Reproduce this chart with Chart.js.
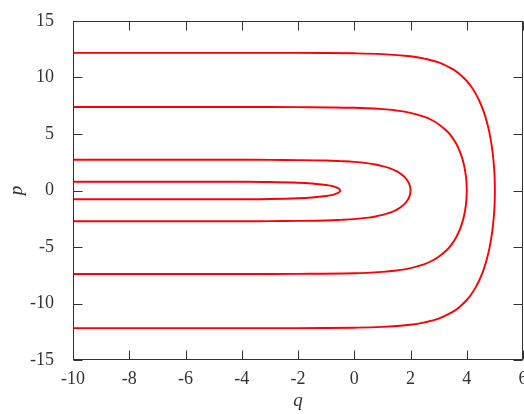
<!DOCTYPE html>
<html>
<head>
<meta charset="utf-8">
<script src="https://cdn.jsdelivr.net/npm/chart.js@4"></script>
<style>
  body { margin: 0; background: #fff; }
  #wrap { width: 524px; height: 414px; }
</style>
</head>
<body>
<div id="wrap"><canvas id="phaseChart" width="524" height="414"></canvas></div>
<script>
// tick labels
const xTicks = [-10, -8, -6, -4, -2, 0, 2, 4, 6];
const yTicks = [-15, -10, -5, 0, 5, 10, 15];

// orbits (q, p), each a closed loop from q = -10
const orbit1Q = [-10, -8, -6, -4, -3, -2, -1.5, -1, -0.8, -0.7, -0.6, -0.55, -0.52, -0.5,
                 -0.52, -0.55, -0.6, -0.7, -0.8, -1, -1.5, -2, -3, -4, -6, -8, -10];
const orbit1P = [0.78, 0.78, 0.78, 0.77, 0.75, 0.69, 0.62, 0.49, 0.40, 0.33, 0.24, 0.17, 0.11, 0,
                 -0.11, -0.17, -0.24, -0.33, -0.40, -0.49, -0.62, -0.69, -0.75, -0.77, -0.78, -0.78, -0.78];

const orbit2Q = [-10, -6, -4, -3, -2, -1, -0.5, 0, 0.5, 0.75, 1, 1.25, 1.5, 1.65, 1.8, 1.9, 1.95, 1.99, 2,
                 1.99, 1.95, 1.9, 1.8, 1.65, 1.5, 1.25, 1, 0.75, 0.5, 0, -0.5, -1, -2, -3, -4, -6, -10];
const orbit2P = [2.72, 2.72, 2.72, 2.71, 2.69, 2.65, 2.60, 2.53, 2.40, 2.30, 2.16, 1.98, 1.71, 1.48, 1.16, 0.84, 0.60, 0.27, 0,
                 -0.27, -0.60, -0.84, -1.16, -1.48, -1.71, -1.98, -2.16, -2.30, -2.40, -2.53, -2.60, -2.65, -2.69, -2.71, -2.72, -2.72, -2.72];

const orbit3Q = [-10, -6, -4, -2, 0, 1, 1.5, 2, 2.5, 2.75, 3, 3.3, 3.45, 3.6, 3.7, 3.8, 3.9, 3.97, 3.99, 4,
                 3.99, 3.97, 3.9, 3.8, 3.7, 3.6, 3.45, 3.3, 3, 2.75, 2.5, 2, 1.5, 1, 0, -2, -4, -6, -10];
const orbit3P = [7.39, 7.39, 7.39, 7.38, 7.32, 7.20, 7.08, 6.87, 6.51, 6.24, 5.87, 5.24, 4.81, 4.24, 3.76, 3.15, 2.28, 1.27, 0.74, 0,
                 -0.74, -1.27, -2.28, -3.15, -3.76, -4.24, -4.81, -5.24, -5.87, -6.24, -6.51, -6.87, -7.08, -7.20, -7.32, -7.38, -7.39, -7.39, -7.39];

const orbit4Q = [-10, -6, -4, -2, 0, 1, 2, 2.5, 3, 3.5, 3.75, 4, 4.15, 4.3, 4.45, 4.6, 4.7, 4.8, 4.9, 4.97, 4.99, 5,
                 4.99, 4.97, 4.9, 4.8, 4.7, 4.6, 4.45, 4.3, 4.15, 4, 3.75, 3.5, 3, 2.5, 2, 1, 0, -2, -4, -6, -10];
const orbit4P = [12.18, 12.18, 12.18, 12.18, 12.14, 12.07, 11.88, 11.67, 11.33, 10.74, 10.29, 9.69, 9.22, 8.64, 7.92, 7.00, 6.20, 5.19, 3.76, 2.09, 1.22, 0,
                 -1.22, -2.09, -3.76, -5.19, -6.20, -7.00, -7.92, -8.64, -9.22, -9.69, -10.29, -10.74, -11.33, -11.67, -11.88, -12.07, -12.14, -12.18, -12.18, -12.18, -12.18];

const orbits = [[orbit1Q, orbit1P], [orbit2Q, orbit2P], [orbit3Q, orbit3P], [orbit4Q, orbit4P]];

const serif = 'Liberation Serif';
const ink = '#333';

// box around the plot with inward ticks on all four sides
const frame = {
    id: 'frame',
    afterDatasetsDraw(chart) {
        const { ctx, chartArea: a, scales } = chart;
        const L = Math.round(a.left) + 0.5, R = Math.round(a.right) - 0.5;
        const T = Math.round(a.top) + 0.5, B = Math.round(a.bottom) - 0.5;
        const len = 9;
        ctx.save();
        ctx.strokeStyle = '#333';
        ctx.lineWidth = 1;
        ctx.strokeRect(L, T, R - L, B - T);
        ctx.beginPath();
        xTicks.forEach(v => {
            const px = Math.round(scales.x.getPixelForValue(v)) + 0.5;
            ctx.moveTo(px, B); ctx.lineTo(px, B - len);
            ctx.moveTo(px, T); ctx.lineTo(px, T + len);
        });
        yTicks.forEach(v => {
            const py = Math.round(scales.y.getPixelForValue(v)) + 0.5;
            ctx.moveTo(L, py); ctx.lineTo(L + len, py);
            ctx.moveTo(R, py); ctx.lineTo(R - len, py);
        });
        ctx.stroke();
        ctx.restore();
    }
};

const ctx = document.getElementById('phaseChart').getContext('2d');
const phaseChart = new Chart(ctx, {
    type: 'scatter',
    data: {
        datasets: orbits.map(([qs, ps]) => ({
            data: qs.map((q, i) => ({ x: q, y: ps[i] })),
            showLine: true,
            borderColor: '#ff0000',
            borderWidth: 1.9,
            pointRadius: 0,
            tension: 0.4,
            fill: false
        }))
    },
    options: {
        responsive: false,
        animation: false,
        layout: { padding: { top: 21, right: 1, left: 0, bottom: 0 } },
        plugins: {
            legend: { display: false },
            tooltip: { enabled: false }
        },
        scales: {
            x: {
                type: 'linear',
                min: -10,
                max: 6,
                afterBuildTicks: s => { s.ticks = xTicks.map(v => ({ value: v })); },
                afterFit: s => { s.height = 54; s.paddingLeft = 0; s.paddingRight = 0; },
                grid: { display: false },
                border: { display: false },
                ticks: { color: ink, font: { family: serif, size: 18 }, padding: 0, maxRotation: 0, autoSkip: false },
                title: { display: true, text: 'q', color: ink, font: { family: serif, size: 19, style: 'italic' }, padding: { top: 0, bottom: 2 } }
            },
            y: {
                type: 'linear',
                min: -15,
                max: 15,
                afterBuildTicks: s => { s.ticks = yTicks.map(v => ({ value: v })); },
                afterFit: s => { s.width = 73; s.paddingTop = 0; s.paddingBottom = 0; },
                grid: { display: false },
                border: { display: false },
                ticks: { color: ink, font: { family: serif, size: 18 }, padding: 11, autoSkip: false },
                title: { display: true, text: 'p', color: ink, font: { family: serif, size: 19, style: 'italic' }, padding: 6 }
            }
        }
    },
    plugins: [frame]
});
</script>
</body>
</html>
